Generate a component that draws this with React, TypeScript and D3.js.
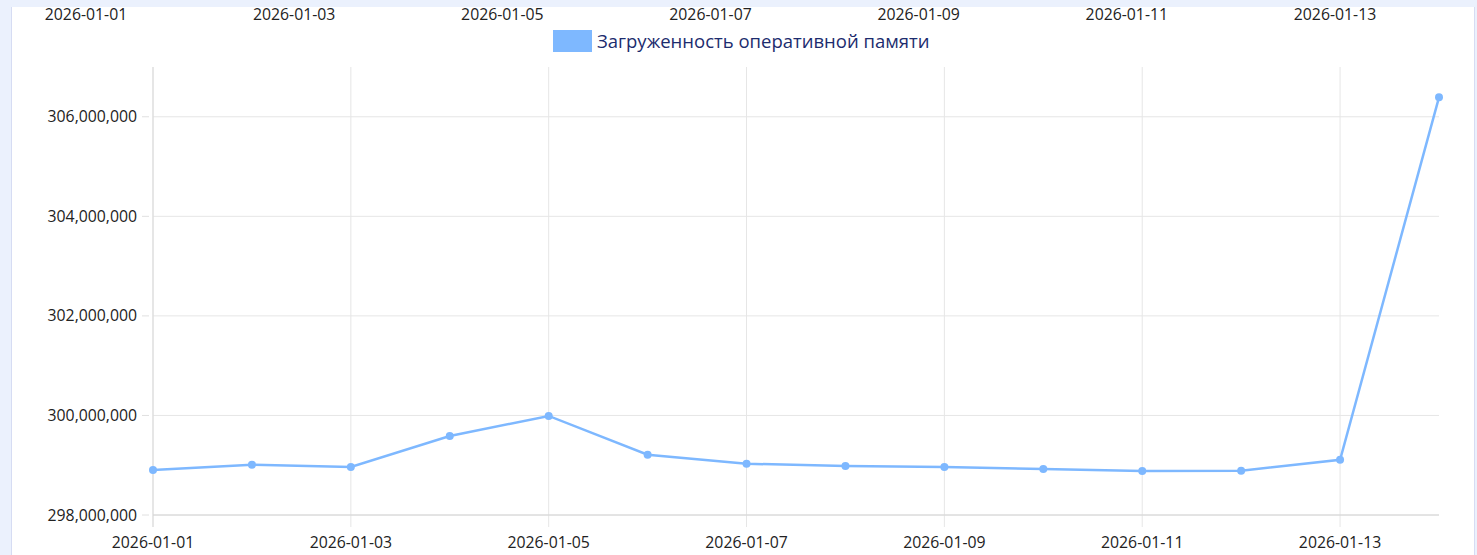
import React from "react";
import * as d3 from "d3";

const dates = [
  "2026-01-01", "2026-01-02", "2026-01-03", "2026-01-04", "2026-01-05",
  "2026-01-06", "2026-01-07", "2026-01-08", "2026-01-09", "2026-01-10",
  "2026-01-11", "2026-01-12", "2026-01-13", "2026-01-14",
];
const memoryLoad = [
  298904000, 299010000, 298964000, 299586000, 299990000,
  299210000, 299030000, 298984000, 298964000, 298924000,
  298884000, 298888000, 299110000, 306390000,
];
const yTicks = [298000000, 300000000, 302000000, 304000000, 306000000];
const xTickLabels = ["2026-01-01", "2026-01-03", "2026-01-05", "2026-01-07", "2026-01-09", "2026-01-11", "2026-01-13"];
const topAxisLabels = ["2026-01-01", "2026-01-03", "2026-01-05", "2026-01-07", "2026-01-09", "2026-01-11", "2026-01-13"];
const seriesName = "Загруженность оперативной памяти";

const W = 1477;
const H = 555;
const FONT = "'Open Sans', 'Noto Sans', sans-serif";
const LINE = "#7eb8ff";
const TICK_FS = 15.8;

export default function App() {
  const x = d3.scalePoint<string>().domain(dates).range([153, 1439]);
  const y = d3.scaleLinear().domain([298000000, 307000000]).range([515, 67]);
  const topX = d3.scalePoint<string>().domain(topAxisLabels).range([86, 1335]);
  const fmt = d3.format(",");
  const line = d3
    .line<number>()
    .x((_, i) => x(dates[i]) as number)
    .y((d) => y(d));

  return (
    <svg
      width={W}
      height={H}
      style={{ position: "absolute", left: 0, top: 0, display: "block" }}
    >
      <rect x={0} y={0} width={W} height={H} fill="#ebf1fd" />
      <rect x={12} y={7} width={1462} height={H} fill="#ffffff" />
      <line x1={11.5} x2={11.5} y1={7} y2={H} stroke="#d6dcf3" />
      <line x1={1474.5} x2={1474.5} y1={7} y2={H} stroke="#d6dcf3" />

      {topAxisLabels.map((t) => (
        <text
          key={"top" + t}
          x={topX(t)}
          y={20}
          textAnchor="middle"
          fontFamily={FONT}
          fontSize={TICK_FS}
          fill="#222"
        >
          {t}
        </text>
      ))}

      <rect x={553} y={30} width={39} height={22} fill={LINE} />
      <text x={597} y={48} fontFamily={FONT} fontSize={18.5} fill="#1c2c6e">
        {seriesName}
      </text>

      {yTicks.map((t) => (
        <g key={"y" + t}>
          <line x1={153} x2={1439} y1={y(t)} y2={y(t)} stroke="#e6e6e6" />
          <line x1={142} x2={149} y1={y(t)} y2={y(t)} stroke="#e0e0e0" />
          <text
            x={137}
            y={y(t)}
            dy="0.35em"
            textAnchor="end"
            fontFamily={FONT}
            fontSize={TICK_FS}
            fill="#222"
          >
            {fmt(t)}
          </text>
        </g>
      ))}

      {xTickLabels.map((t) => (
        <g key={"x" + t}>
          <line x1={x(t)} x2={x(t)} y1={67} y2={527} stroke="#e6e6e6" />
          <text
            x={x(t)}
            y={548}
            textAnchor="middle"
            fontFamily={FONT}
            fontSize={TICK_FS}
            fill="#222"
          >
            {t}
          </text>
        </g>
      ))}

      <line x1={153} x2={153} y1={67} y2={527} stroke="#d9d9d9" />
      <line x1={153} x2={1439} y1={515} y2={515} stroke="#d4d4d4" />

      <path d={line(memoryLoad) || ""} fill="none" stroke={LINE} strokeWidth={2.5} />
      {memoryLoad.map((v, i) => (
        <circle key={"p" + i} cx={x(dates[i])} cy={y(v)} r={4} fill={LINE} />
      ))}
    </svg>
  );
}
